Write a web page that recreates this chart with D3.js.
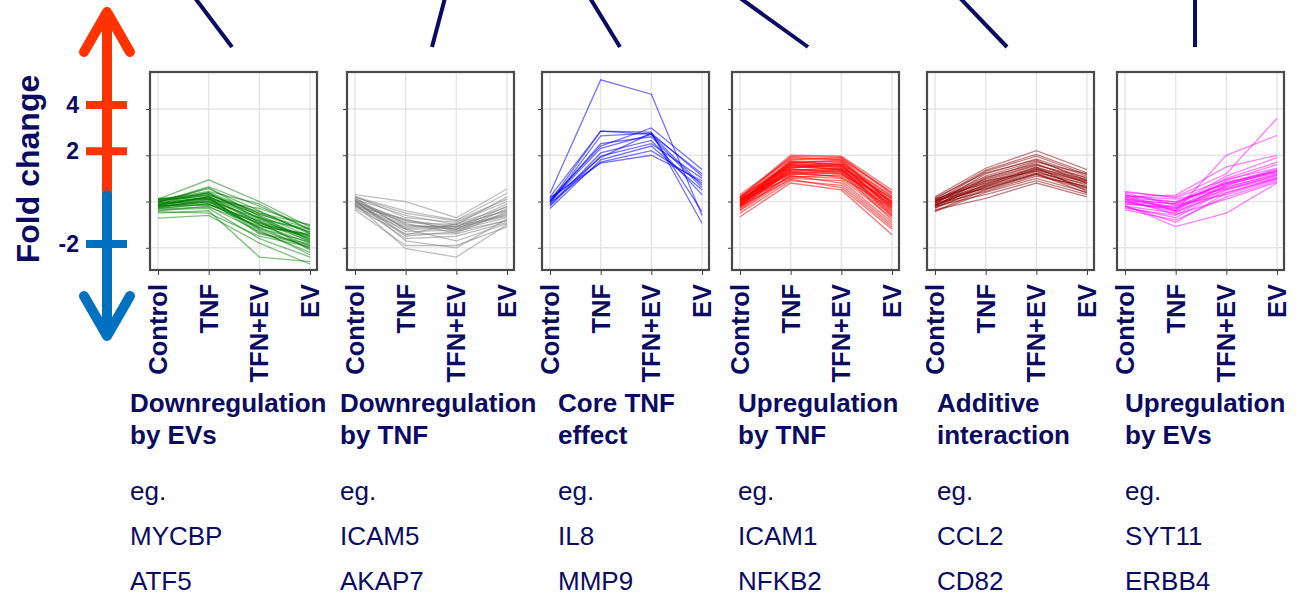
<!DOCTYPE html>
<html>
<head>
<meta charset="utf-8">
<script src="https://cdn.jsdelivr.net/npm/d3@7"></script>
<style>
  body { margin: 0; background: #fff; }
  svg { display: block; font-family: "Liberation Sans", Arial, sans-serif; }
</style>
</head>
<body>
<svg id="chart" width="1299" height="604"></svg>
<script>
// treatment categories on every panel
const conditions = ["Control", "TNF", "TFN+EV", "EV"];

// cluster names and example genes
const titles = [
    ["Downregulation", "by EVs"],
    ["Downregulation", "by TNF"],
    ["Core TNF", "effect"],
    ["Upregulation", "by TNF"],
    ["Additive", "interaction"],
    ["Upregulation", "by EVs"]
];
const examples = [
    ["MYCBP", "ATF5"],
    ["ICAM5", "AKAP7"],
    ["IL8", "MMP9"],
    ["ICAM1", "NFKB2"],
    ["CCL2", "CD82"],
    ["SYT11", "ERBB4"]
];
const colours = ["#008000", "#808080", "#0000ff", "#ff0000", "#8b0000", "#ff00ff"];
const opacities = [0.5, 0.5, 0.55, 0.55, 0.5, 0.5];

// fold change arrow tick labels (log2 value, label)
const foldTicks = [[2, "4"], [1, "2"], [-1, "-2"]];

// log2 fold change profiles, one row per gene: Control, TNF, TFN+EV, EV
const downByEV = [
    [0.05, 0.47, 0.0, -0.55], [-0.02, 0.32, -0.1, -0.6], [0.0, 0.28, -0.2, -0.7],
    [-0.05, 0.2, -0.25, -0.5], [0.03, 0.15, -0.3, -0.75], [-0.1, 0.1, -0.35, -0.65],
    [-0.08, 0.05, -0.4, -0.8], [0.02, 0.12, -0.45, -0.85], [-0.12, 0.0, -0.5, -0.9],
    [-0.15, -0.05, -0.55, -0.7], [-0.05, 0.08, -0.6, -1.0], [-0.2, -0.1, -0.65, -1.1],
    [-0.1, 0.02, -0.7, -0.95], [0.0, 0.18, -0.38, -0.6], [-0.07, 0.1, -0.28, -0.58],
    [-0.18, -0.15, -0.8, -1.2], [-0.25, -0.2, -1.2, -1.3], [-0.36, -0.3, -0.9, -1.35],
    [0.07, 0.05, -0.15, -0.52], [-0.03, -0.02, -0.48, -0.78], [-0.13, 0.04, -0.58, -0.88],
    [-0.09, -0.08, -0.42, -1.05], [0.04, 0.22, -0.05, -0.62], [-0.16, -0.12, -0.52, -0.72],
    [-0.06, 0.06, -0.62, -1.15], [-0.11, 0.0, -0.35, -0.82], [0.01, 0.14, -0.22, -0.68],
    [-0.22, -0.25, -0.75, -0.98], [-0.04, 0.09, -0.68, -0.92], [-0.14, -0.06, -0.46, -0.76],
    [-0.02, 0.3, -0.32, -0.84], [-0.1, -0.04, -0.56, -1.02], [0.06, 0.16, -0.26, -0.66],
    [-0.01, 0.07, -0.44, -0.74], [-0.08, 0.11, -0.5, -0.96], [0.03, 0.19, -0.36, -0.88]
];
const downByTNF = [
    [0.15, 0.0, -0.35, 0.27], [0.1, -0.2, -0.4, 0.18], [0.05, -0.3, -0.5, 0.1],
    [0.0, -0.4, -0.55, -0.05], [-0.05, -0.45, -0.5, -0.2], [0.02, -0.5, -0.6, -0.1],
    [-0.1, -0.55, -0.52, -0.3], [0.08, -0.6, -0.58, -0.25], [-0.02, -0.65, -0.62, -0.35],
    [-0.15, -0.7, -0.7, -0.4], [0.0, -0.75, -0.65, -0.15], [-0.08, -0.8, -0.75, -0.45],
    [0.12, -0.35, -0.45, 0.0], [-0.18, -0.95, -0.95, -0.55], [-0.05, -1.02, -1.2, -0.5],
    [0.03, -0.85, -1.0, -0.38], [-0.12, -0.6, -0.85, -0.48], [0.06, -0.48, -0.68, -0.22],
    [-0.03, -0.42, -0.6, -0.28], [0.09, -0.25, -0.42, 0.05], [-0.07, -0.52, -0.56, -0.32],
    [0.01, -0.72, -0.48, -0.12], [-0.1, -0.38, -0.64, -0.42], [0.04, -0.58, -0.54, -0.18]
];
const coreTNF = [
    [0.18, 2.63, 2.32, -0.3], [0.1, 1.52, 1.45, 0.35], [0.0, 1.52, 1.5, -0.47],
    [-0.05, 1.42, 1.48, 0.55], [0.05, 1.2, 1.59, 0.69], [0.0, 1.15, 1.45, 0.6],
    [-0.1, 0.98, 1.25, 0.5], [-0.15, 0.9, 1.2, 0.25], [0.03, 0.95, 1.48, -0.22],
    [-0.03, 0.85, 1.1, 0.4], [0.08, 0.83, 1.0, 0.45], [-0.08, 1.05, 1.32, 0.15],
    [0.0, 1.25, 1.4, 0.3]
];
const upByTNF = [
    [0.1, 1.0, 0.98, 0.25], [0.05, 0.95, 0.9, 0.1], [0.0, 0.9, 0.95, 0.15],
    [-0.05, 0.88, 0.85, 0.05], [0.08, 0.85, 0.8, 0.0], [-0.1, 0.82, 0.88, -0.05],
    [0.02, 0.8, 0.75, -0.1], [-0.02, 0.78, 0.82, 0.12], [0.12, 0.75, 0.7, -0.02],
    [-0.08, 0.72, 0.78, -0.15], [0.0, 0.7, 0.65, -0.2], [0.04, 0.68, 0.72, 0.08],
    [-0.12, 0.65, 0.6, -0.25], [-0.03, 0.62, 0.68, -0.08], [0.06, 0.6, 0.55, -0.3],
    [-0.15, 0.58, 0.62, -0.12], [-0.06, 0.55, 0.5, -0.35], [0.01, 0.52, 0.58, 0.02],
    [-0.2, 0.5, 0.45, -0.45], [-0.25, 0.45, 0.35, -0.55], [-0.33, 0.4, 0.25, -0.72],
    [-0.1, 0.48, 0.3, -0.6], [0.15, 0.92, 0.92, 0.2], [-0.04, 0.86, 0.8, -0.18],
    [0.03, 0.74, 0.85, -0.04], [-0.07, 0.66, 0.7, -0.22], [0.07, 0.82, 0.76, 0.06],
    [-0.14, 0.7, 0.62, -0.4], [0.0, 0.6, 0.66, -0.06], [-0.09, 0.77, 0.73, -0.28],
    [0.05, 0.64, 0.52, -0.14], [-0.18, 0.56, 0.4, -0.5], [0.09, 0.97, 0.96, 0.18],
    [-0.01, 0.84, 0.9, -0.02], [0.03, 0.79, 0.68, -0.32], [-0.06, 0.73, 0.8, -0.1]
];
const additive = [
    [0.1, 0.72, 1.1, 0.69], [0.05, 0.68, 1.02, 0.62], [0.0, 0.65, 0.98, 0.58],
    [-0.05, 0.6, 0.92, 0.55], [0.02, 0.55, 0.88, 0.5], [-0.1, 0.5, 0.85, 0.6],
    [0.04, 0.48, 0.8, 0.45], [-0.02, 0.45, 0.78, 0.52], [-0.08, 0.42, 0.75, 0.4],
    [0.06, 0.4, 0.72, 0.48], [-0.12, 0.38, 0.7, 0.35], [0.0, 0.35, 0.68, 0.42],
    [-0.15, 0.32, 0.65, 0.3], [-0.04, 0.3, 0.62, 0.38], [0.03, 0.28, 0.6, 0.28],
    [-0.2, 0.25, 0.58, 0.25], [-0.06, 0.22, 0.55, 0.33], [-0.22, 0.2, 0.5, 0.2],
    [-0.1, 0.15, 0.45, 0.15], [-0.18, 0.07, 0.4, 0.1], [0.08, 0.62, 0.9, 0.45],
    [-0.03, 0.52, 0.82, 0.4], [-0.09, 0.36, 0.74, 0.22], [0.01, 0.44, 0.66, 0.3],
    [-0.13, 0.27, 0.6, 0.18], [-0.07, 0.33, 0.7, 0.44]
];
const upByEV = [
    [0.2, 0.1, 0.6, 1.8], [0.15, -0.2, 1.0, 1.43], [0.1, 0.14, 0.75, 1.0],
    [0.05, -0.05, 0.55, 0.95], [0.0, -0.1, 0.5, 0.85], [-0.05, -0.15, 0.45, 0.8],
    [0.1, -0.2, 0.4, 0.7], [-0.1, -0.25, 0.35, 0.68], [0.02, -0.05, 0.42, 0.65],
    [0.08, 0.0, 0.38, 0.62], [-0.15, -0.3, 0.3, 0.6], [-0.05, -0.12, 0.32, 0.58],
    [0.12, 0.05, 0.28, 0.55], [-0.12, -0.35, 0.25, 0.52], [0.0, -0.22, 0.2, 0.5],
    [0.18, -0.08, 0.15, 0.48], [-0.18, -0.4, 0.1, 0.45], [0.04, -0.28, 0.05, 0.42],
    [-0.08, -0.54, -0.25, 0.4], [0.22, 0.08, 0.48, 0.72], [-0.02, -0.18, 0.36, 0.64],
    [0.06, -0.14, 0.26, 0.57], [-0.1, -0.45, 0.18, 0.5], [0.14, -0.02, 0.4, 0.66]
];
const clusters = [downByEV, downByTNF, coreTNF, upByTNF, additive, upByEV];

// layout
const navy = "#0b0b62";
const panelLeft = [150, 347, 542, 732, 927, 1117];
const panelW = 167, panelTop = 72, panelBottom = 270;
const textLeft = [130, 340, 558, 738, 937, 1125];
const connectors = [[195, 232], [445, 432], [590, 620], [740, 808], [960, 1007], [1195, 1195]];

const svg = d3.select("#chart");

const y = d3.scaleLinear().domain([-1.48, 2.8]).range([panelBottom, panelTop]);
const x = d3.scalePoint().domain(conditions).range([8, panelW - 7]);

// connector lines from the top
svg.append("g")
    .selectAll("line")
    .data(connectors)
    .enter()
    .append("line")
    .attr("x1", d => d[0]).attr("y1", -2)
    .attr("x2", d => d[1]).attr("y2", 47)
    .attr("stroke", navy)
    .attr("stroke-width", 4);

// panels
clusters.forEach((lines, i) => {
    let g = svg.append("g").attr("transform", `translate(${panelLeft[i]},0)`);

    // grid
    g.append("g")
        .selectAll("line")
        .data([-1, 0, 1, 2])
        .enter()
        .append("line")
        .attr("x1", 0).attr("x2", panelW)
        .attr("y1", d => y(d)).attr("y2", d => y(d))
        .attr("stroke", "#e6e6e6").attr("stroke-width", 1.5);
    g.append("g")
        .selectAll("line")
        .data(conditions)
        .enter()
        .append("line")
        .attr("x1", d => x(d)).attr("x2", d => x(d))
        .attr("y1", panelTop).attr("y2", panelBottom)
        .attr("stroke", "#e6e6e6").attr("stroke-width", 1.5);

    // gene profiles
    let line = d3.line().x((v, j) => x(conditions[j])).y(v => y(v));
    g.append("g")
        .selectAll("path")
        .data(lines)
        .enter()
        .append("path")
        .attr("d", line)
        .attr("fill", "none")
        .attr("stroke", colours[i])
        .attr("stroke-opacity", opacities[i])
        .attr("stroke-width", 1.3);

    // axes (ticks only)
    g.append("g")
        .attr("transform", `translate(-1,0)`)
        .call(d3.axisLeft(y).tickValues([-1, 0, 1, 2]).tickSize(3).tickFormat(""))
        .call(a => a.select(".domain").remove())
        .call(a => a.selectAll("line").attr("stroke", "#444"));
    g.append("g")
        .attr("transform", `translate(0,${panelBottom + 1})`)
        .call(d3.axisBottom(x).tickSize(4).tickFormat(""))
        .call(a => a.select(".domain").remove())
        .call(a => a.selectAll("line").attr("stroke", "#444"));

    // frame
    g.append("rect")
        .attr("x", 0).attr("y", panelTop)
        .attr("width", panelW).attr("height", panelBottom - panelTop)
        .attr("fill", "none")
        .attr("stroke", "#4a4a4a")
        .attr("stroke-width", 2.2);

    // rotated condition labels
    g.append("g")
        .selectAll("text")
        .data(conditions)
        .enter()
        .append("text")
        .attr("transform", d => `translate(${x(d) + 9},284) rotate(-90)`)
        .attr("text-anchor", "end")
        .attr("font-size", 25.5)
        .attr("font-weight", "bold")
        .attr("fill", navy)
        .text(d => d);

    // cluster description
    let t = svg.append("g").attr("transform", `translate(${textLeft[i]},0)`)
        .attr("fill", navy).attr("font-size", 26);
    t.selectAll("text.title")
        .data(titles[i])
        .enter()
        .append("text")
        .attr("class", "title")
        .attr("y", (d, j) => 412 + j * 32)
        .attr("font-weight", "bold")
        .text(d => d);
    t.selectAll("text.gene")
        .data(["eg."].concat(examples[i]))
        .enter()
        .append("text")
        .attr("class", "gene")
        .attr("y", (d, j) => 500 + j * 45)
        .text(d => d);
});

// fold change arrow
const fc = d3.scaleLinear().domain([-1, 2]).range([244, 105]);
const arrow = svg.append("g").attr("stroke-linecap", "round").attr("stroke-linejoin", "round").attr("fill", "none");
arrow.append("path")
    .attr("d", `M107,${fc(0.05)} L107,12 M84,52 L107,12 L130,52`)
    .attr("stroke", "#ff3300").attr("stroke-width", 10);
arrow.append("path")
    .attr("d", `M107,${fc(0.05)} L107,336 M84,296 L107,336 L130,296`)
    .attr("stroke", "#0070c0").attr("stroke-width", 10);
arrow.selectAll("line")
    .data(foldTicks)
    .enter()
    .append("line")
    .attr("x1", 86).attr("x2", 127)
    .attr("y1", d => fc(d[0])).attr("y2", d => fc(d[0]))
    .attr("stroke-linecap", "butt")
    .attr("stroke", d => d[0] > 0 ? "#ff3300" : "#0070c0")
    .attr("stroke-width", 8);
svg.append("g")
    .selectAll("text")
    .data(foldTicks)
    .enter()
    .append("text")
    .attr("x", 79)
    .attr("y", d => fc(d[0]) + 8)
    .attr("text-anchor", "end")
    .attr("font-size", 23)
    .attr("font-weight", "bold")
    .attr("fill", navy)
    .text(d => d[1]);

svg.append("text")
    .attr("transform", "translate(39,169) rotate(-90)")
    .attr("text-anchor", "middle")
    .attr("font-size", 32)
    .attr("font-weight", "bold")
    .attr("fill", navy)
    .text("Fold change");
</script>
</body>
</html>
